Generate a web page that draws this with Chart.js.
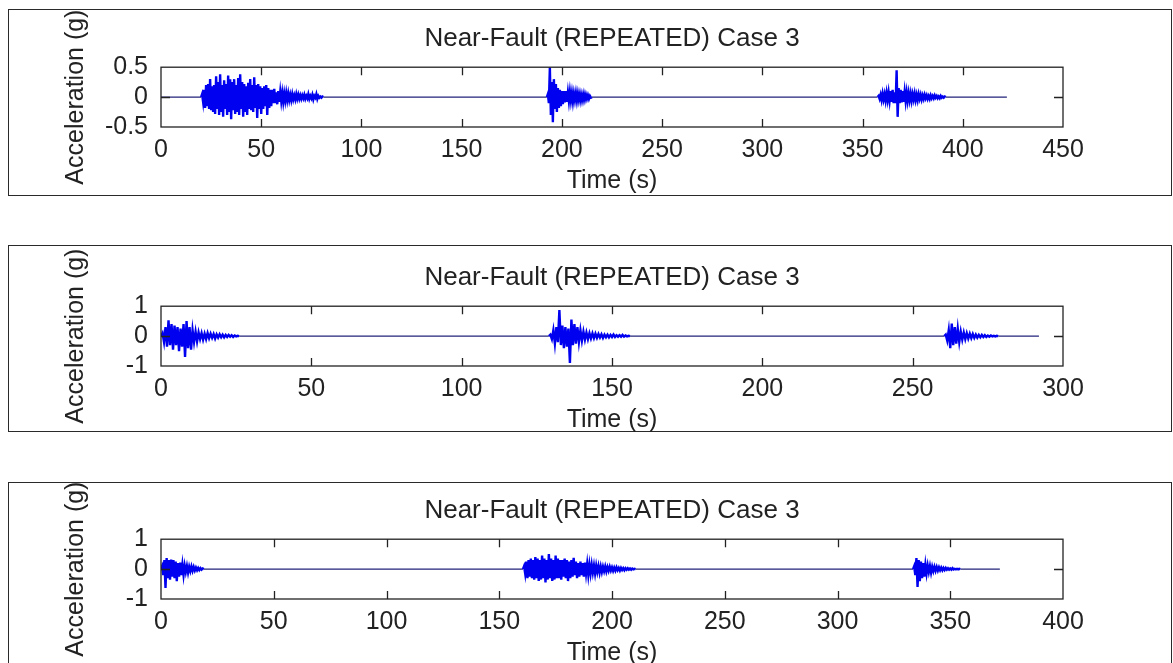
<!DOCTYPE html>
<html>
<head>
<meta charset="utf-8">
<script src="https://cdn.jsdelivr.net/npm/chart.js@4"></script>
<style>
body{margin:0;background:#fff;width:1173px;height:663px;overflow:hidden;position:relative}
.box{position:absolute;left:8px;width:1164px;height:187px;border:1px solid #2a2a2a;box-sizing:border-box}
canvas{position:absolute;left:9px}
</style>
</head>
<body>
<div class="box" style="top:9px"></div>
<div class="box" style="top:245px"></div>
<div class="box" style="top:482px;height:190px"></div>
<canvas id="c1" width="1163" height="190" style="top:10px"></canvas>
<canvas id="c2" width="1163" height="190" style="top:249px"></canvas>
<canvas id="c3" width="1163" height="190" style="top:482px"></canvas>
<script>
// sample step of the records (s)
var dt = 0.5;
var titleText = 'Near-Fault (REPEATED) Case 3';
var xTitle = 'Time (s)';
var yTitle = 'Acceleration (g)';

// panel 1
var xTicks1 = [0,50,100,150,200,250,300,350,400,450];
var yTicks1 = [-0.5,0,0.5];
var onset1 = [20.5,193,358];
var tEnd1 = 422;
var acc1a = [0.05,-0.08,0.12,-0.18,0.2,-0.15,0.22,-0.2,0.3,-0.22,
  0.18,-0.25,0.2,-0.28,0.35,-0.2,0.25,-0.3,0.38,-0.25,
  0.2,-0.33,0.28,-0.2,0.22,-0.3,0.36,-0.25,0.3,-0.37,
  0.25,-0.22,0.3,-0.28,0.2,-0.25,0.32,-0.3,0.38,-0.2,
  0.25,-0.33,0.22,-0.25,0.18,-0.3,0.24,-0.2,0.3,-0.22,
  0.2,-0.25,0.33,-0.18,0.2,-0.35,0.22,-0.2,0.18,-0.28,
  0.15,-0.2,0.18,-0.15,0.2,-0.3,0.15,-0.18,0.12,-0.15,
  0.12,-0.1,0.14,-0.1,0.08,-0.12,0.1,-0.08,0.09,-0.07,
  0.07,-0.08,0.06,-0.06,0.07,-0.05,0.06,-0.05,0.04,-0.05,
  0.05,-0.04,0.03,-0.04,0.05,-0.03,0.04,-0.03,0.03,-0.03,
  0.03,-0.02,0.04,-0.03,0.02,-0.02,0.05,-0.03,0.02,-0.02,
  0.04,-0.04,0.02,-0.01,0.05,-0.03,0.02,-0.01,0.01,-0.01,
  0.01,0];
var acc1b = [0.05,-0.1,0.5,-0.3,0.25,-0.42,0.3,-0.2,0.22,-0.25,
  0.15,-0.18,0.12,-0.15,0.1,-0.12,0.1,-0.09,0.1,-0.08,
  0.08,-0.07,0.09,-0.06,0.07,-0.08,0.06,-0.05,0.07,-0.06,
  0.06,-0.05,0.05,-0.06,0.04,-0.05,0.05,-0.04,0.04,-0.03,
  0.03,-0.03,0.02,-0.01,0];
var acc1c = [0.02,-0.03,0.04,-0.05,0.06,-0.04,0.05,-0.06,0.07,-0.05,
  0.08,-0.06,0.1,-0.08,0.12,-0.1,0.08,-0.1,0.45,-0.33,
  0.15,-0.1,0.12,-0.09,0.1,-0.08,0.09,-0.07,0.08,-0.06,
  0.07,-0.05,0.06,-0.06,0.05,-0.04,0.06,-0.05,0.04,-0.05,
  0.05,-0.03,0.04,-0.04,0.03,-0.03,0.04,-0.02,0.03,-0.03,
  0.02,-0.03,0.03,-0.02,0.02,-0.02,0.03,-0.01,0.02,-0.02,
  0.01,-0.02,0.02,-0.01,0.01,-0.01,0.01,0];

// panel 2
var xTicks2 = [0,50,100,150,200,250,300];
var yTicks2 = [-1,0,1];
var onset2 = [0.5,129.5,261];
var tEnd2 = 292;
var acc2a = [0.1,-0.2,0.3,-0.35,0.53,-0.3,0.4,-0.45,0.35,-0.3,
  0.3,-0.5,0.25,-0.35,0.4,-0.7,0.5,-0.4,0.3,-0.45,
  0.2,-0.2,0.15,-0.18,0.12,-0.1,0.1,-0.12,0.08,-0.1,
  0.1,-0.07,0.08,-0.06,0.07,-0.08,0.06,-0.05,0.06,-0.04,
  0.05,-0.04,0.04,-0.03,0.04,-0.02,0.03,-0.03,0.02,-0.01,
  0.01,0];
var acc2b = [0.05,-0.1,0.2,-0.25,0.3,-0.2,0.87,-0.3,0.35,-0.4,
  0.3,-0.35,0.25,-0.9,0.55,-0.3,0.4,-0.25,0.3,-0.2,
  0.2,-0.15,0.15,-0.12,0.12,-0.1,0.1,-0.08,0.09,-0.07,
  0.08,-0.06,0.07,-0.05,0.06,-0.06,0.05,-0.04,0.05,-0.04,
  0.04,-0.03,0.05,-0.03,0.03,-0.02,0.03,-0.02,0.04,-0.02,
  0.02,-0.01,0.01,0];
var acc2c = [0.05,-0.15,0.2,-0.4,0.42,-0.3,0.3,-0.25,0.25,-0.2,
  0.15,-0.12,0.12,-0.1,0.1,-0.08,0.08,-0.07,0.07,-0.06,
  0.05,-0.05,0.04,-0.04,0.04,-0.03,0.03,-0.03,0.02,-0.02,
  0.02,-0.01,0.01,-0.01,0.01,0];

// panel 3
var xTicks3 = [0,50,100,150,200,250,300,350,400];
var yTicks3 = [-1,0,1];
var onset3 = [0.5,161,334];
var tEnd3 = 372;
var acc3a = [0.1,-0.2,0.3,-0.63,0.37,-0.3,0.3,-0.35,0.32,-0.25,
  0.3,-0.3,0.25,-0.4,0.2,-0.25,0.22,-0.2,0.15,-0.2,
  0.12,-0.1,0.1,-0.12,0.08,-0.07,0.09,-0.06,0.07,-0.05,
  0.05,-0.04,0.04,-0.03,0.03,-0.02,0.02,0];
var acc3b = [0.1,-0.15,0.25,-0.3,0.3,-0.25,0.35,-0.3,0.3,-0.35,
  0.4,-0.3,0.35,-0.4,0.3,-0.35,0.45,-0.3,0.35,-0.45,
  0.3,-0.35,0.5,-0.3,0.35,-0.4,0.3,-0.35,0.45,-0.3,
  0.35,-0.3,0.3,-0.35,0.3,-0.25,0.35,-0.3,0.3,-0.4,
  0.25,-0.3,0.3,-0.25,0.38,-0.2,0.25,-0.3,0.2,-0.25,
  0.25,-0.2,0.2,-0.25,0.22,-0.15,0.18,-0.2,0.15,-0.15,
  0.15,-0.12,0.12,-0.15,0.12,-0.1,0.1,-0.12,0.09,-0.1,
  0.08,-0.07,0.09,-0.08,0.07,-0.06,0.08,-0.05,0.06,-0.06,
  0.05,-0.05,0.06,-0.04,0.04,-0.05,0.04,-0.03,0.03,-0.04,
  0.03,-0.02,0.03,-0.02,0.02,-0.02,0.02,-0.01,0.01,0];
var acc3c = [0.1,-0.2,0.37,-0.6,0.3,-0.4,0.25,-0.3,0.2,-0.25,
  0.15,-0.15,0.12,-0.1,0.1,-0.12,0.08,-0.07,0.08,-0.06,
  0.07,-0.05,0.06,-0.04,0.05,-0.04,0.04,-0.03,0.04,-0.02,
  0.03,-0.02,0.02,-0.02,0.03,-0.01,0.01,-0.01,0.01,-0.01,
  0.01,0];

var fontFam = '"Liberation Sans", Arial, Helvetica, sans-serif';
var textCol = '#222';
var burstCol = '#0000f0';
var flatCol = '#23237a';

function buildSeries(onsets, bursts, tEnd){
  var pts = [{x:0, y:0}];
  for (var k in onsets) {
    var t0 = onsets[k];
    if (t0 - dt > 0) pts.push({x: t0 - dt, y: 0});
    bursts[k].forEach(function(v, i){ pts.push({x: t0 + i*dt, y: v}); });
  }
  pts.push({x: tEnd, y: 0});
  return pts;
}

function isFlat(c){ return c.p0.parsed.y === 0 && c.p1.parsed.y === 0; }

// matlab style box with inward ticks
var frameTicks = {
  id: 'frameTicks',
  afterDatasetsDraw: function(chart){
    var ctx = chart.ctx, a = chart.chartArea, xs = chart.scales.x, ys = chart.scales.y;
    ctx.save();
    ctx.strokeStyle = textCol;
    ctx.lineWidth = 1.3;
    ctx.strokeRect(a.left, a.top, a.right - a.left, a.bottom - a.top);
    ctx.beginPath();
    xs.ticks.forEach(function(t){
      if (t.value <= xs.min || t.value >= xs.max) return;
      var px = Math.round(xs.getPixelForValue(t.value)) + 0.5;
      ctx.moveTo(px, a.top); ctx.lineTo(px, a.top + 8);
      ctx.moveTo(px, a.bottom); ctx.lineTo(px, a.bottom - 8);
    });
    ys.ticks.forEach(function(t){
      if (t.value <= ys.min || t.value >= ys.max) return;
      var py = Math.round(ys.getPixelForValue(t.value)) + 0.5;
      ctx.moveTo(a.left, py); ctx.lineTo(a.left + 9, py);
      ctx.moveTo(a.right, py); ctx.lineTo(a.right - 9, py);
    });
    ctx.stroke();
    ctx.restore();
  }
};

function makeChart(id, pts, xTicks, yTicks){
  var config = {
    type: 'line',
    data: {
      datasets: [{
        data: pts,
        borderColor: burstCol,
        borderWidth: 2.4,
        pointRadius: 0,
        tension: 0,
        borderJoinStyle: 'miter',
        segment: {
          borderColor: function(c){ return isFlat(c) ? flatCol : burstCol; },
          borderWidth: function(c){ return isFlat(c) ? 1.1 : 2.4; }
        }
      }]
    },
    options: {
      responsive: false,
      animation: false,
      devicePixelRatio: 1,
      layout: { padding: { left: 0, top: 0, right: 109, bottom: 0 } },
      plugins: {
        legend: { display: false },
        tooltip: { enabled: false },
        title: {
          display: true,
          text: titleText,
          fullSize: false,
          color: textCol,
          font: { family: fontFam, size: 26, weight: 'normal' },
          padding: { top: 13, bottom: 13 }
        }
      },
      scales: {
        x: {
          type: 'linear',
          min: xTicks[0],
          max: xTicks[xTicks.length - 1],
          afterBuildTicks: function(s){ s.ticks = xTicks.map(function(v){ return {value: v}; }); },
          afterFit: function(s){ s.height = 73; },
          grid: { display: false, drawTicks: false },
          border: { display: false },
          ticks: { color: textCol, padding: 8, maxRotation: 0, autoSkip: false, font: { family: fontFam, size: 25 } },
          title: { display: true, text: xTitle, color: textCol, font: { family: fontFam, size: 25 }, padding: { top: 0, bottom: 4 } }
        },
        y: {
          type: 'linear',
          min: yTicks[0],
          max: yTicks[yTicks.length - 1],
          afterBuildTicks: function(s){ s.ticks = yTicks.map(function(v){ return {value: v}; }); },
          afterFit: function(s){ s.width = 152; },
          grid: { display: false, drawTicks: false },
          border: { display: false },
          ticks: { color: textCol, padding: 13, autoSkip: false, font: { family: fontFam, size: 25 } },
          title: { display: true, text: yTitle, color: textCol, font: { family: fontFam, size: 25 }, padding: { top: 52, bottom: 0 } }
        }
      }
    },
    plugins: [frameTicks]
  };
  return new Chart(document.getElementById(id), config);
}

var chart1 = makeChart('c1', buildSeries(onset1, [acc1a, acc1b, acc1c], tEnd1), xTicks1, yTicks1);
var chart2 = makeChart('c2', buildSeries(onset2, [acc2a, acc2b, acc2c], tEnd2), xTicks2, yTicks2);
var chart3 = makeChart('c3', buildSeries(onset3, [acc3a, acc3b, acc3c], tEnd3), xTicks3, yTicks3);
</script>
</body>
</html>
